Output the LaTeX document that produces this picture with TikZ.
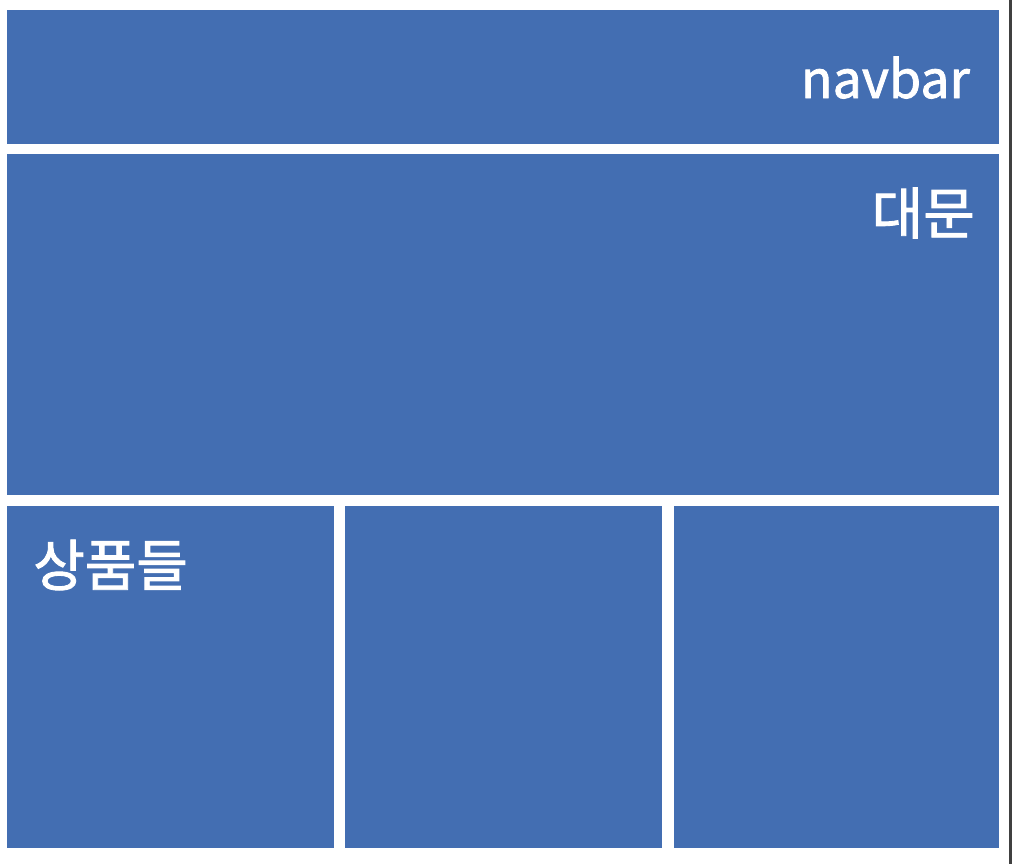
\documentclass[tikz,border=0pt]{standalone}
\usepackage{fontspec}
\setmainfont{Noto Sans CJK KR}
\newfontfamily\tagfont{Noto Sans CJK KR}[FakeBold=1.6]
\usetikzlibrary{positioning}

\definecolor{boxblue}{RGB}{67,110,178}

\begin{document}
\begin{tikzpicture}[x=0.75pt, y=-0.75pt,
    part/.style = {fill = boxblue, draw = none, inner sep = 0pt, outer sep = 0pt},
    tag/.style = {text = white, font = \tagfont\fontsize{42}{42}\selectfont, inner sep = 0pt}]
        \useasboundingbox (0,0) rectangle (1012,864);
        \fill [white] (0,0) rectangle (1012,864);
        \fill [black!75] (1009,0) rectangle (1012,864);

        % top strip and the big gate
        \node [part, minimum width = 992*0.75pt, minimum height = 134*0.75pt, anchor = north west] (navbar) at (7, 10) {};
        \node [part, minimum width = 992*0.75pt, minimum height = 341*0.75pt, anchor = north west] (gate) at (7, 154) {};

        % three product boxes
        \node [part, minimum width = 327*0.75pt, minimum height = 342*0.75pt, anchor = north west] (item1) at (7, 506) {};
        \node [part, minimum width = 317*0.75pt, minimum height = 342*0.75pt, anchor = north west] (item2) at (345, 506) {};
        \node [part, minimum width = 325*0.75pt, minimum height = 342*0.75pt, anchor = north west] (item3) at (674, 506) {};

        \node [tag, font = \tagfont\fontsize{39}{39}\selectfont, anchor = base east] (navtext) at (970, 98) {navbar};
        \node [tag, anchor = base east] (gatetext) at (975, 234) {대문};
        \node [tag, anchor = base west] (itemtext) at (33, 586) {상품들};
      \end{tikzpicture}
\end{document}
